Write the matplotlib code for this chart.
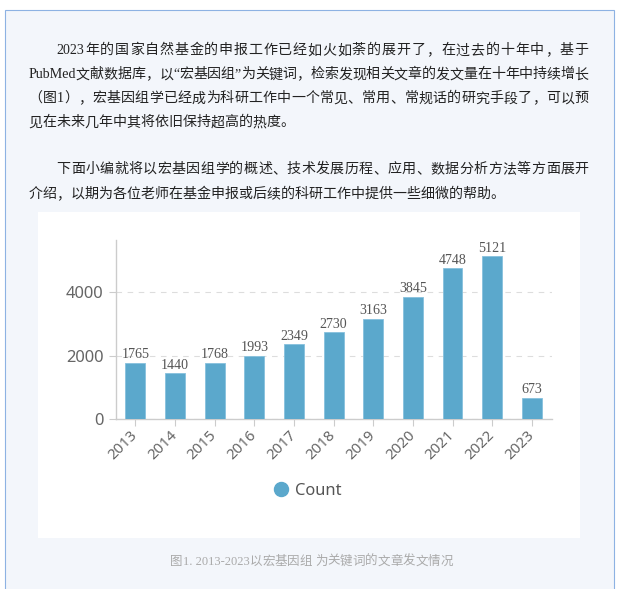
import re
import matplotlib
matplotlib.use('Agg')
import matplotlib.pyplot as plt
from matplotlib.patches import Rectangle
from matplotlib.lines import Line2D
from matplotlib import font_manager
from matplotlib.ft2font import FT2Font

# ---------------- data ----------------
years = ['2013', '2014', '2015', '2016', '2017', '2018', '2019', '2020', '2021', '2022', '2023']
counts = [1765, 1440, 1768, 1993, 2349, 2730, 3163, 3845, 4748, 5121, 673]
series_name = 'Count'
y_ticks = [0, 2000, 4000]

para1 = [
    "2023年的国家自然基金的申报工作已经如火如荼的展开了，在过去的十年中，基于",
    "PubMed文献数据库，以“宏基因组”为关键词，检索发现相关文章的发文量在十年中持续增长",
    "（图1），宏基因组学已经成为科研工作中一个常见、常用、常规话的研究手段了，可以预",
    "见在未来几年中其将依旧保持超高的热度。",
]
para2 = [
    "下面小编就将以宏基因组学的概述、技术发展历程、应用、数据分析方法等方面展开",
    "介绍，以期为各位老师在基金申报或后续的科研工作中提供一些细微的帮助。",
]
caption = "图1. 2013-2023以宏基因组 为关键词的文章发文情况"

# ---------------- styling ----------------
W, H, DPI = 620, 589, 100
BAR = '#5BA8CC'
CJK = 'Noto Sans CJK SC'
SERIF = 'Liberation Serif'
SANS = 'Noto Sans'
SERIF_SCALE = 1.0


def pt(px):
    return px * 72.0 / DPI


_fcache = {}


def _font(family):
    if family not in _fcache:
        path = font_manager.findfont(font_manager.FontProperties(family=family))
        _fcache[family] = FT2Font(path)
    return _fcache[family]


def advance(s, family, size_px):
    f = _font(family)
    f.set_size(pt(size_px), DPI)
    w = 0.0
    for ch in s:
        g = f.load_char(ord(ch))
        w += g.linearHoriAdvance / 65536.0
    return w


LATIN = re.compile(r'[A-Za-z0-9.\-“” ]+')


def tokenize(line):
    toks = []
    i = 0
    while i < len(line):
        m = LATIN.match(line, i)
        if m:
            toks.append((m.group(0), SERIF))
            i = m.end()
        else:
            toks.append((line[i], CJK))
            i += 1
    return toks


def tok_size(fam, size_px):
    return size_px * (SERIF_SCALE if fam == SERIF else 1.0)


def draw_tokens(ax, x, baseline, line, size_px, color, target=None):
    toks = tokenize(line)
    widths = [advance(t, fam, tok_size(fam, size_px)) for t, fam in toks]
    gap = 0.0
    if target is not None and len(toks) > 1:
        gap = (target - sum(widths)) / (len(toks) - 1)
    for (t, fam), w in zip(toks, widths):
        ax.text(x, baseline, t, fontsize=pt(tok_size(fam, size_px)),
                family=[fam, 'DejaVu Sans'], color=color, ha='left', va='baseline')
        x += w + gap
    return sum(widths)


fig = plt.figure(figsize=(W / DPI, H / DPI), dpi=DPI, facecolor='white')

# background / page layer in pixel coordinates
bg = fig.add_axes([0, 0, 1, 1])
bg.set_xlim(0, W)
bg.set_ylim(H, 0)
bg.axis('off')
bg.add_patch(Rectangle((4.5, 9.5), 609, 620, facecolor='#F3F6FB',
                       edgecolor='#8DB2E3', linewidth=0.8))
bg.add_patch(Rectangle((38, 212), 542, 326, facecolor='white', edgecolor='none'))

# body text, justified
TXT = '#222222'
FS = 14
X0, X1 = 28.5, 588.5
INDENT = 2 * FS
centres1 = [49, 73, 97, 121]
centres2 = [167.5, 192.5]
for lines, centres in ((para1, centres1), (para2, centres2)):
    for k, (ln, c) in enumerate(zip(lines, centres)):
        x = X0 + (INDENT if k == 0 else 0)
        last = (k == len(lines) - 1)
        draw_tokens(bg, x, c + 5.3, ln, FS, TXT, None if last else X1 - x)

# caption
CFS = 12.5
cw = sum(advance(t, f, tok_size(f, CFS)) for t, f in tokenize(caption))
draw_tokens(bg, 311.5 - cw / 2, 560 + 4.7, caption, CFS, '#AAAAAA')

# ---------------- chart ----------------
ax_l, ax_r, ax_b, ax_t = 115.5, 551.7, 419, 240
ax = fig.add_axes([ax_l / W, 1 - ax_b / H, (ax_r - ax_l) / W, (ax_b - ax_t) / H])
ax.set_facecolor('none')
xs = list(range(len(years)))
ax.bar(xs, counts, width=0.5, color=BAR, edgecolor='#86C1DD', linewidth=0.6, zorder=3)
for x, v in zip(xs, counts):
    ax.annotate(str(v), (x, v), xytext=(0, 1.2), textcoords='offset points',
                ha='center', va='bottom', fontsize=pt(14), family=SERIF,
                color='#555555', zorder=4)

ax.set_xlim(-0.5, len(years) - 0.5)
ax.set_ylim(0, 5640)
ax.set_yticks(y_ticks)
ax.set_yticklabels([str(t) for t in y_ticks], fontsize=pt(16.5), family=SANS, color='#666666')
ax.set_xticks(xs)
ax.set_xticklabels(years, fontsize=pt(15), family=SANS, color='#666666',
                   rotation=45, ha='right', va='center', rotation_mode='anchor')
ax.tick_params(axis='x', length=5, width=0.8, color='#CCCCCC', pad=pt(7))
ax.tick_params(axis='y', length=5, width=0.8, color='#CCCCCC', pad=pt(5))
ax.yaxis.grid(True, color='#DDDDDD', linestyle=(0, (5, 5)), linewidth=0.8)
ax.set_axisbelow(True)
for s in ('top', 'right'):
    ax.spines[s].set_visible(False)
for s in ('left', 'bottom'):
    ax.spines[s].set_color('#CCCCCC')
    ax.spines[s].set_linewidth(1.0)

handle = Line2D([], [], marker='o', linestyle='none', markersize=pt(14),
                markerfacecolor=BAR, markeredgecolor=BAR)
fig.legend(handles=[handle], labels=[series_name], loc='center',
           bbox_to_anchor=(308 / W, 1 - 491 / H), frameon=False,
           prop={'family': SANS, 'size': pt(16.5)}, labelcolor='#555555',
           handlelength=0.8, handletextpad=0.4, borderpad=0)

fig.savefig('out.png', dpi=DPI, facecolor='white')
